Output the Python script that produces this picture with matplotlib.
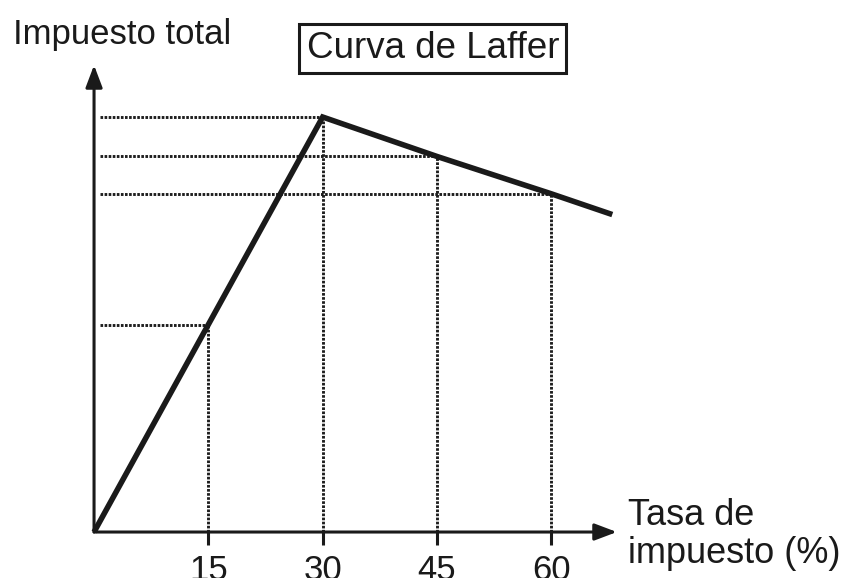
import matplotlib.pyplot as plt

plt.rcParams['font.family'] = ['Liberation Sans', 'DejaVu Sans']

# datos (impuesto en unidades relativas, pico = 100)
tasa = [0, 15, 30, 45, 60, 68]
impuesto = [0, 50, 100, 90.5, 81.5, 76.5]
marcas = [15, 30, 45, 60]          # puntos con lineas guia
ticks = [15, 30, 45, 60]
tick_labels = ['15', '30', '45', '60']

negro = '#1a1a1a'

fig = plt.figure(figsize=(8.47, 5.78), dpi=100)
ax = fig.add_axes([0, 0, 1, 1])
ax.set_xlim(-12.34, 98.8)
ax.set_ylim(-11.08, 128.2)
for s in ax.spines.values():
    s.set_visible(False)
ax.spines['bottom'].set_position(('data', 0))
ax.set_yticks([])
ax.set_xticks(ticks)
ax.set_xticklabels(tick_labels)
ax.tick_params(axis='x', direction='out', length=9.5, width=2.2, pad=6,
               labelsize=25, colors=negro)

# ejes con flecha
flecha = dict(arrowstyle='-|>,head_length=0.45,head_width=0.17', lw=2.2,
              color=negro, mutation_scale=30, shrinkA=0, shrinkB=0)
ax.annotate('', xy=(68.6, 0), xytext=(0, 0), arrowprops=flecha)
ax.annotate('', xy=(0, 112.5), xytext=(0, 0), arrowprops=flecha)

# lineas guia punteadas
punteado = dict(color='#1e1e1e', lw=2.1, ls=(0, (0.9, 0.5)))
for t in marcas:
    v = impuesto[tasa.index(t)]
    ax.plot([0.8, t], [v, v], **punteado)
    ax.plot([t, t], [0, v], **punteado)

# curva de Laffer
ax.plot(tasa, impuesto, color=negro, lw=4, solid_capstyle='butt',
        solid_joinstyle='miter')

fig.text(0.0153, 0.924, 'Impuesto total', fontsize=25, color=negro,
         ha='left', va='baseline')
fig.text(0.511, 0.916, 'Curva de Laffer', fontsize=26.5, color=negro,
         ha='center', va='center',
         bbox=dict(boxstyle='square,pad=0.2', fc='white', ec=negro, lw=2.2))
fig.text(0.741, 0.138, 'Tasa de\nimpuesto (%)', fontsize=26, color=negro,
         ha='left', va='top', linespacing=1.12)

fig.savefig('out.png', dpi=100)
